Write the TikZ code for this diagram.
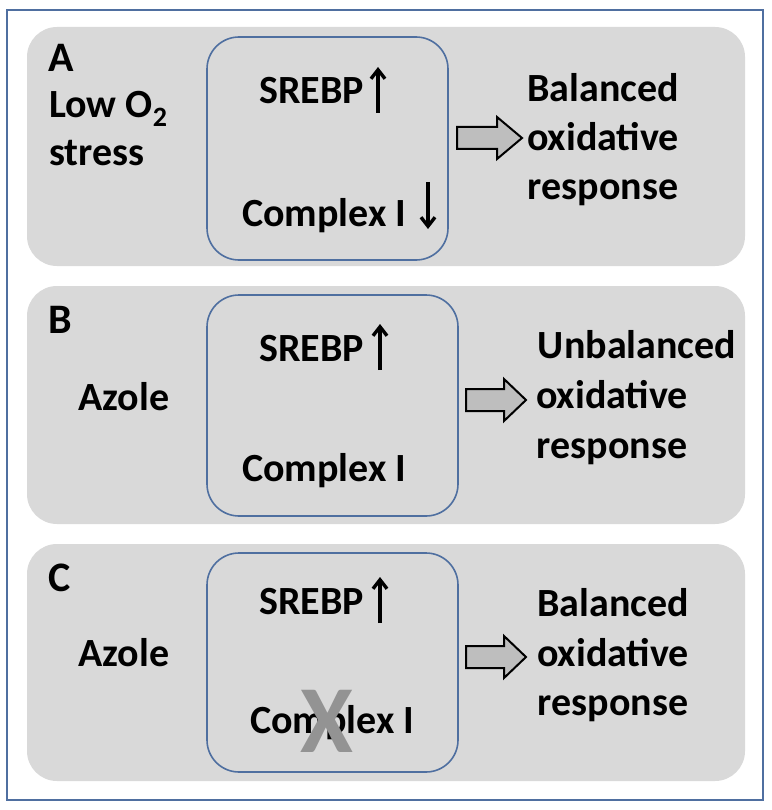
\documentclass[tikz,border=0pt]{standalone}
\usepackage{fontspec}
\setmainfont{Carlito}
\usetikzlibrary{arrows.meta}
\definecolor{panelgray}{RGB}{217,217,217}
\definecolor{frameblue}{RGB}{79,111,160}
\definecolor{arrowgray}{RGB}{190,190,190}
\begin{document}
\begin{tikzpicture}[x=1pt,y=-1pt,
  panel/.style={fill=panelgray,draw=none,rounded corners=30pt},
  inner/.style={draw=frameblue,line width=1.6pt,rounded corners=32pt},
  txt/.style={font=\fontsize{40}{49}\selectfont\bfseries,inner sep=0pt,anchor=base},
  txtw/.style={txt,anchor=base west},
  lbl/.style={font=\fontsize{42}{49}\selectfont\bfseries,inner sep=0pt,anchor=base west},
  updown/.style={line width=3.4pt,-{Straight Barb[length=9pt,width=14pt]}},
  blk/.style={draw=black,line width=2pt,fill=arrowgray,line join=miter}
]
\useasboundingbox (0,0) rectangle (771,810);
\fill[white] (0,0) rectangle (771,810);
\draw[frameblue,line width=1.6pt] (7,10) rectangle (763,800);

% panels
\fill[panel] (27,27) rectangle (745,266);
\fill[panel] (27,286) rectangle (745,524);
\fill[panel] (27,544) rectangle (745,781);

% inner boxes
\draw[inner] (207,37) rectangle (448,260);
\draw[inner] (207,295) rectangle (458,516);
\draw[inner] (207,553) rectangle (458,772);

% Panel A
\node[lbl] (la) at (48,72) {A};
\node[txtw] (lowo) at (49,118) {Low O\raisebox{-0.22em}{\fontsize{28}{28}\selectfont 2}};
\node[txtw] (stressA) at (49,166) {stress};
\node[txtw] (srebpA) at (259,104) {SREBP};
\coordinate (uaS) at (378,113);
\coordinate (uaE) at (378,67);
\draw[updown] (uaS) -- (uaE);
\node[txtw] (cxA) at (242,226) {Complex I};
\coordinate (daS) at (428,182);
\coordinate (daE) at (428,229);
\draw[updown] (daS) -- (daE);
\node[txt] (bA1) at (603,102) {Balanced};
\node[txt] (bA2) at (603,151) {oxidative};
\node[txt] (bA3) at (603,200) {response};
\draw[blk] (457,127) -- (497,127) -- (497,117) -- (522,138) -- (497,159) -- (497,149) -- (457,149) -- cycle;

% Panel B
\node[lbl] (lb) at (48,333) {B};
\node[txtw] (azB) at (78,410) {Azole};
\node[txtw] (srebpB) at (259,361) {SREBP};
\coordinate (ubS) at (380,370);
\coordinate (ubE) at (380,324);
\draw[updown] (ubS) -- (ubE);
\node[txtw] (cxB) at (242,481) {Complex I};
\node[txt] (bB1) at (637,358) {Unbalanced};
\node[txt] (bB2) at (612,408) {oxidative};
\node[txt] (bB3) at (612,458) {response};
\draw[blk] (466,389) -- (504,389) -- (504,379) -- (526,400) -- (504,421) -- (504,411) -- (466,411) -- cycle;

% Panel C
\node[lbl] (lc) at (48,591) {C};
\node[txtw] (azC) at (78,666) {Azole};
\node[txtw] (srebpC) at (259,614) {SREBP};
\coordinate (ucS) at (380,623);
\coordinate (ucE) at (380,577);
\draw[updown] (ucS) -- (ucE);
\node[txtw] (cxC) at (250,733) {Complex I};
\node[font=\fontsize{96}{96}\selectfont\bfseries,text=gray!85,inner sep=0pt,anchor=base] (xmark) at (327,752) {X};
\node[txt] (bC1) at (613,616) {Balanced};
\node[txt] (bC2) at (613,666) {oxidative};
\node[txt] (bC3) at (613,715) {response};
\draw[blk] (466,646) -- (504,646) -- (504,636) -- (526,657) -- (504,678) -- (504,668) -- (466,668) -- cycle;
\end{tikzpicture}
\end{document}
